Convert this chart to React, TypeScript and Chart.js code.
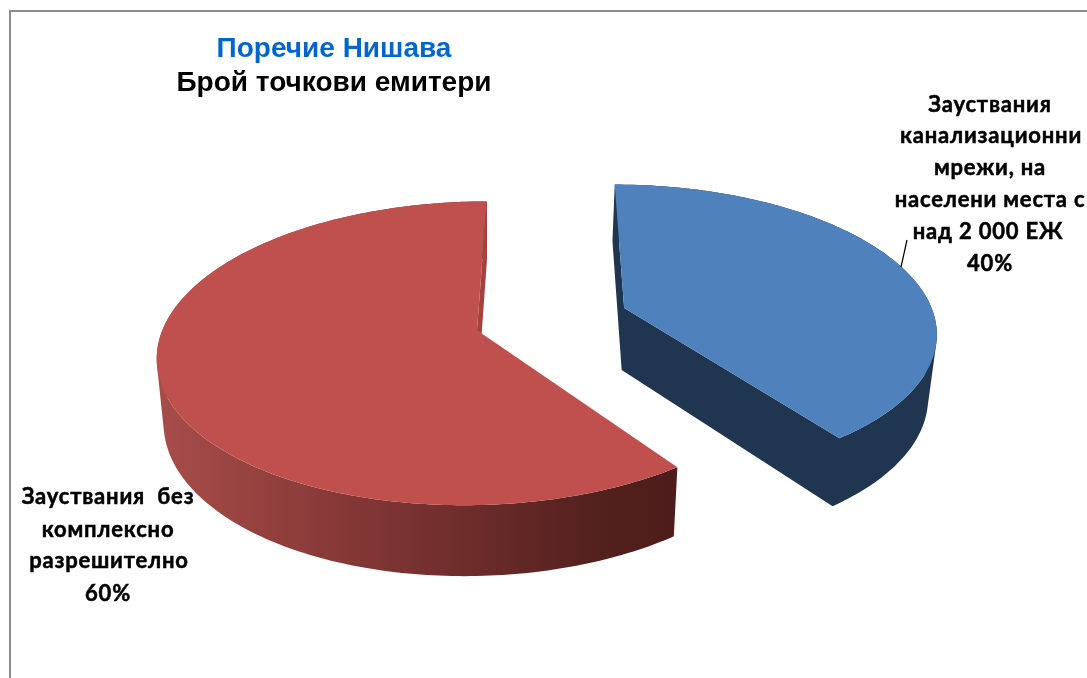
import React, { useEffect, useRef } from "react";
import { Chart, registerables } from "chart.js";

Chart.register(...registerables);

const categories = ["Зауствания канализационни мрежи", "Зауствания без комплексно разрешително"];
const values = [40, 60];
const titleLine = "Поречие Нишава";
const subtitleLine = "Брой точкови емитери";
const blueLabelLines = ["Зауствания", "канализационни", "мрежи, на", "населени места с", "над 2 000 ЕЖ"];
const redLabelLines = ["Зауствания  без", "комплексно", "разрешително"];
const topColors = ["#4F81BD", "#C0504D"];

type Pt = [number, number];

// perspective projection of the pie's ground plane onto the screen
const P = { cx: 551.4, cy: 319, A: 145, B: 311, p: 0.15 };
const project = (X: number, Y: number): Pt => {
  const w = 1 - P.p * Y;
  return [P.cx + (P.B * X) / w, P.cy + (P.A * Y) / w];
};
const drop = (pt: Pt): Pt => [500 + (pt[0] - 500) * 0.98, pt[1] + 62 + 0.045 * (pt[1] - 307)];

const fillPoly = (ctx: CanvasRenderingContext2D, pts: Pt[], style: any) => {
  ctx.beginPath();
  pts.forEach((q, i) => (i ? ctx.lineTo(q[0], q[1]) : ctx.moveTo(q[0], q[1])));
  ctx.closePath();
  ctx.fillStyle = style;
  ctx.fill();
};

// Fill the union of many quads as one path, all wound the same way, so that
// neither seams nor cancelling overlaps appear.
const fillQuads = (ctx: CanvasRenderingContext2D, quads: Pt[][], style: any) => {
  ctx.beginPath();
  quads.forEach((quad) => {
    let area = 0;
    quad.forEach((a, i) => {
      const b = quad[(i + 1) % quad.length];
      area += a[0] * b[1] - b[0] * a[1];
    });
    const pts = area < 0 ? [...quad].reverse() : quad;
    pts.forEach((q, i) => (i ? ctx.lineTo(q[0], q[1]) : ctx.moveTo(q[0], q[1])));
    ctx.closePath();
  });
  ctx.fillStyle = style;
  ctx.fill("nonzero");
};

const slice3d = {
  id: "slice3d",
  beforeDatasetsDraw(chart: any) {
    const ctx: CanvasRenderingContext2D = chart.ctx;
    const arcs = chart.getDatasetMeta(0).data;
    ctx.save();
    arcs.forEach((arc: any, idx: number) => {
      const { startAngle, endAngle, outerRadius } = arc;
      const e = arc.options.offset / outerRadius;
      const mid = (startAngle + endAngle) / 2;
      const ox = Math.cos(mid) * e;
      const oy = Math.sin(mid) * e;
      const apex = project(ox, oy);
      const rim: Pt[] = [];
      const n = Math.ceil(((endAngle - startAngle) * 180) / Math.PI);
      for (let i = 0; i <= n; i++) {
        const a = startAngle + ((endAngle - startAngle) * i) / n;
        rim.push(project(ox + Math.cos(a), oy + Math.sin(a)));
      }
      const isBlue = idx === 0;
      let wallStyle: any = "#1F3550";
      if (!isBlue) {
        const g = ctx.createLinearGradient(165, 0, 678, 0);
        g.addColorStop(0, "#A64C49");
        g.addColorStop(0.3, "#8A3B39");
        g.addColorStop(0.6, "#6C2C2A");
        g.addColorStop(0.85, "#52201D");
        g.addColorStop(1, "#4E1C1A");
        wallStyle = g;
      }
      const lastPt = rim[rim.length - 1];
      const quads: Pt[][] = [];
      for (let i = 0; i < rim.length - 1; i++) {
        quads.push([rim[i], rim[i + 1], drop(rim[i + 1]), drop(rim[i])]);
      }
      if (isBlue) {
        quads.push([apex, rim[0], drop(rim[0]), drop(apex)]);
        quads.push([apex, lastPt, drop(lastPt), drop(apex)]);
      }
      fillQuads(ctx, quads, wallStyle);
      if (!isBlue) {
        fillPoly(ctx, [apex, lastPt, drop(lastPt), drop(apex)], "#A34340");
      }
      fillPoly(ctx, [apex, ...rim], arc.options.backgroundColor);
    });
    ctx.restore();
    return false;
  },
  afterDraw(chart: any) {
    const ctx: any = chart.ctx;
    ctx.save();
    // frame
    ctx.strokeStyle = "#8C8C8C";
    ctx.lineWidth = 2;
    ctx.beginPath();
    ctx.moveTo(10, 678);
    ctx.lineTo(10, 11);
    ctx.lineTo(1087, 11);
    ctx.stroke();
    // titles
    ctx.textAlign = "center";
    ctx.textBaseline = "middle";
    ctx.font = 'bold 28px "Liberation Sans"';
    ctx.fillStyle = "#0066CC";
    ctx.fillText(titleLine, 334, 49);
    ctx.fillStyle = "#000000";
    ctx.fillText(subtitleLine, 334, 83);
    // data labels
    ctx.font = 'bold 22px "Lato", "Open Sans"';
    ctx.letterSpacing = "0.8px";
    ctx.strokeStyle = "#000000";
    ctx.lineWidth = 0.5;
    const put = (t: string, x: number, y: number) => {
      ctx.fillText(t, x, y);
      ctx.strokeText(t, x, y);
    };
    const total = values.reduce((a, b) => a + b, 0);
    const blue = [...blueLabelLines, `${Math.round((values[0] / total) * 100)}%`];
    const blueY = [105, 136, 168, 200, 232, 264];
    const blueX = [990, 991, 990, 990, 988, 990];
    blue.forEach((t, i) => put(t, blueX[i], blueY[i]));
    const red = [...redLabelLines, `${Math.round((values[1] / total) * 100)}%`];
    const redY = [497, 530, 561, 594];
    const redX = [108, 108, 109, 108];
    red.forEach((t, i) => put(t, redX[i], redY[i]));
    ctx.letterSpacing = "0px";
    // leader line
    ctx.lineWidth = 1.2;
    ctx.beginPath();
    ctx.moveTo(907, 240);
    ctx.lineTo(901, 267);
    ctx.stroke();
    ctx.restore();
  },
};

export default function App() {
  const ref = useRef<HTMLCanvasElement>(null);
  useEffect(() => {
    const chart = new Chart(ref.current!, {
      type: "pie",
      data: {
        labels: categories,
        datasets: [{ data: values, backgroundColor: topColors, borderWidth: 0, offset: 75 }],
      },
      options: {
        animation: false,
        responsive: false,
        rotation: 0,
        layout: { padding: 0 },
        plugins: { legend: { display: false }, title: { display: false }, tooltip: { enabled: false } },
      },
      plugins: [slice3d],
    } as any);
    return () => chart.destroy();
  }, []);
  return (
    <div style={{ position: "fixed", left: 0, top: 0, width: 1087, height: 678, background: "#fff" }}>
      <canvas ref={ref} width={1087} height={678} style={{ display: "block" }} />
    </div>
  );
}
